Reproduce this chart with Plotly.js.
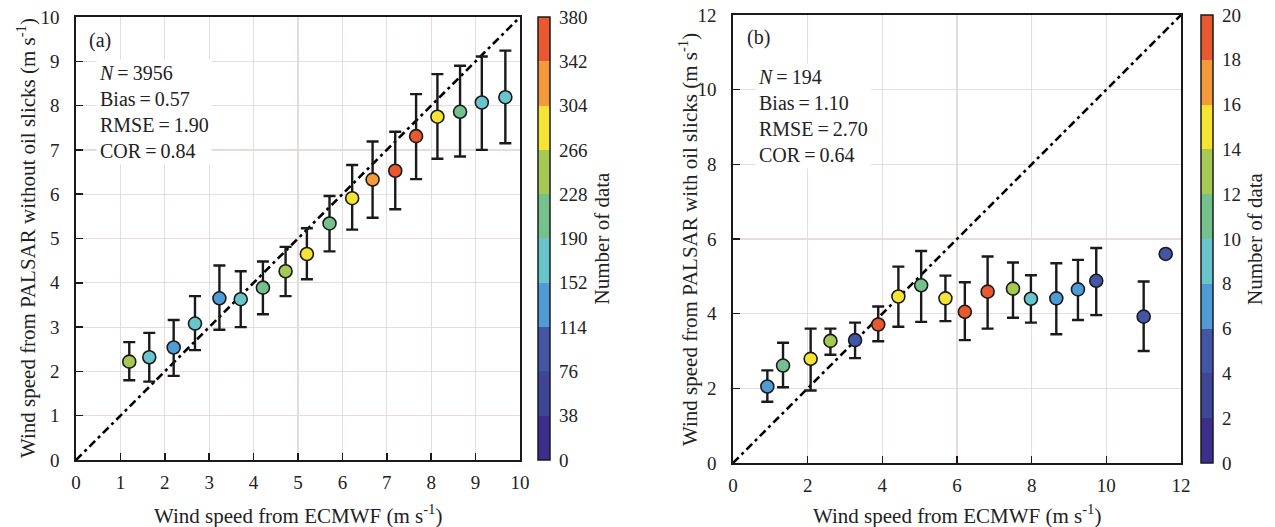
<!DOCTYPE html>
<html>
<head>
<meta charset="utf-8">
<script src="https://cdn.plot.ly/plotly-3.0.1.min.js"></script>
<style>html,body{margin:0;padding:0;background:#fff;}#chart{width:1275px;height:527px;}</style>
</head>
<body>
<div id="chart"></div>
<script>
// ---- Panel (a): without oil slicks ----
const ecmwfA = [1.2, 1.65, 2.2, 2.68, 3.23, 3.71, 4.21, 4.72, 5.2, 5.71, 6.22, 6.68, 7.19, 7.66, 8.14, 8.65, 9.14, 9.67];
const palsarA = [2.22, 2.32, 2.54, 3.08, 3.65, 3.63, 3.89, 4.26, 4.65, 5.34, 5.91, 6.33, 6.53, 7.31, 7.75, 7.86, 8.07, 8.19];
const upperA = [2.66, 2.87, 3.16, 3.70, 4.39, 4.26, 4.48, 4.81, 5.23, 5.96, 6.66, 7.19, 7.41, 8.26, 8.71, 8.90, 9.11, 9.24];
const lowerA = [1.80, 1.77, 1.90, 2.48, 2.94, 3.00, 3.29, 3.70, 4.08, 4.71, 5.20, 5.47, 5.66, 6.34, 6.80, 6.85, 7.00, 7.15];
const countA = [250, 170, 130, 175, 140, 180, 210, 245, 285, 215, 290, 320, 355, 350, 280, 205, 170, 165];

// ---- Panel (b): with oil slicks ----
const ecmwfB = [0.92, 1.34, 2.08, 2.61, 3.27, 3.89, 4.43, 5.04, 5.69, 6.21, 6.82, 7.5, 7.98, 8.66, 9.24, 9.73, 11.0, 11.59];
const palsarB = [2.05, 2.61, 2.79, 3.27, 3.29, 3.71, 4.46, 4.76, 4.41, 4.05, 4.59, 4.67, 4.40, 4.41, 4.65, 4.88, 3.92, 5.60];
const upperB = [2.48, 3.22, 3.60, 3.60, 3.76, 4.19, 5.26, 5.68, 5.02, 4.84, 5.53, 5.37, 5.03, 5.35, 5.44, 5.76, 4.86, 5.60];
const lowerB = [1.64, 2.03, 1.94, 2.90, 2.81, 3.26, 3.65, 3.78, 3.80, 3.29, 3.60, 3.89, 3.76, 3.45, 3.83, 3.96, 3.00, 5.60];
const countB = [7, 11, 15, 13, 5, 19, 15, 11, 15, 19, 19, 13, 9, 7, 7, 5, 5, 4];

// ---- 1:1 reference lines ----
const diagA = [0, 10];
const diagB = [0, 12];

// ---- Colour bins and tick labels ----
const binColors = ['#3b2e8c', '#3e4796', '#4356a6', '#4f9bd6', '#68c5cb', '#75c18d', '#a6c953', '#f5e532', '#f59a3b', '#e9582f'];
const cbTicksA = [0, 38, 76, 114, 152, 190, 228, 266, 304, 342, 380];
const cbTicksB = [0, 2, 4, 6, 8, 10, 12, 14, 16, 18, 20];

const EQ = '\u2009=\u2009';
const statsA = ['<i>N</i>' + EQ + '3956', 'Bias' + EQ + '0.57', 'RMSE' + EQ + '1.90', 'COR' + EQ + '0.84'];
const statsB = ['<i>N</i>' + EQ + '194', 'Bias' + EQ + '1.10', 'RMSE' + EQ + '2.70', 'COR' + EQ + '0.64'];

const FONT = 'Liberation Serif, Times New Roman, serif';

const scale = [];
binColors.forEach((c, i) => { scale.push([i / 10, c]); scale.push([(i + 1) / 10, c]); });

function diff(a, b) { return a.map((v, i) => v - b[i]); }

function pointTrace(x, y, up, lo, cnt, xa, ya, cax) {
  return {
    type: 'scatter', mode: 'markers', x: x, y: y, xaxis: xa, yaxis: ya,
    error_y: { type: 'data', symmetric: false, array: diff(up, y), arrayminus: diff(y, lo),
      color: '#1a1a1a', thickness: 2.4, width: 6 },
    marker: { size: 13, color: cnt, coloraxis: cax, line: { color: '#1a1a1a', width: 1.6 } },
    hoverinfo: 'x+y', showlegend: false
  };
}

function diagTrace(d, xa, ya) {
  return { type: 'scatter', mode: 'lines', x: d, y: d, xaxis: xa, yaxis: ya,
    line: { color: '#000', width: 2.6, dash: '8px,4px,3px,4px' }, hoverinfo: 'skip', showlegend: false };
}

const data = [
  diagTrace(diagA, 'x', 'y'),
  pointTrace(ecmwfA, palsarA, upperA, lowerA, countA, 'x', 'y', 'coloraxis'),
  diagTrace(diagB, 'x2', 'y2'),
  pointTrace(ecmwfB, palsarB, upperB, lowerB, countB, 'x2', 'y2', 'coloraxis2')
];

function axis(range, dtick, domain, anchor, standoff) {
  return {
    range: range, dtick: dtick, domain: domain, anchor: anchor,
    showline: true, linecolor: '#1a1a1a', linewidth: 1.6, mirror: true,
    ticks: 'inside', ticklen: 7, tickwidth: 1.5, tickcolor: '#1a1a1a',
    showgrid: true, gridcolor: '#e6dcdc', gridwidth: 1.2, zeroline: false,
    tickfont: { family: FONT, size: 19, color: '#222' }, ticklabelstandoff: standoff, fixedrange: true
  };
}

function cbar(x, y, len, ticks) {
  return {
    cmin: ticks[0], cmax: ticks[ticks.length - 1], colorscale: scale,
    colorbar: {
      x: x, xanchor: 'left', xpad: 0, y: y, yanchor: 'middle', ypad: 0,
      len: len, lenmode: 'fraction', thickness: 12,
      outlinewidth: 1.5, outlinecolor: '#1a1a1a',
      tickvals: ticks, ticktext: ticks.map(String), ticks: 'outside', ticklen: 5, tickcolor: 'rgba(0,0,0,0)',
      tickfont: { family: FONT, size: 19, color: '#222' },
      title: { text: 'Number of data', side: 'right', font: { family: FONT, size: 21, color: '#222' } }
    }
  };
}

const ann = [];
function txt(text, x, y, xref, yref, opts) {
  ann.push(Object.assign({ text: text, x: x, y: y, xref: xref, yref: yref, showarrow: false,
    font: { family: FONT, size: 20, color: '#222' } }, opts || {}));
}
// panel labels and stats
txt('(a)', 0.025, 0.948, 'x domain', 'y domain', { xanchor: 'left', yanchor: 'middle' });
txt(statsA.join('<br>'), 0.044, 0.905, 'x domain', 'y domain',
  { xanchor: 'left', yanchor: 'top', align: 'left', bgcolor: '#fff', borderpad: 2 });
txt('(b)', 0.027, 0.949, 'x2 domain', 'y2 domain', { xanchor: 'left', yanchor: 'middle' });
txt(statsB.join('<br>'), 0.05, 0.892, 'x2 domain', 'y2 domain',
  { xanchor: 'left', yanchor: 'top', align: 'left', bgcolor: '#fff', borderpad: 2 });
// axis titles
const tf = { family: FONT, size: 21, color: '#222' };
const c = { xanchor: 'center', yanchor: 'middle', font: tf };
txt('Wind speed from ECMWF (m s<sup>-1</sup>)', 298 / 1275, 1 - 514 / 527, 'paper', 'paper', c);
txt('Wind speed from ECMWF (m s<sup>-1</sup>)', 957 / 1275, 1 - 514 / 527, 'paper', 'paper', c);
txt('Wind speed from PALSAR without oil slicks (m s<sup>-1</sup>)', 26 / 1275, 1 - 238 / 527, 'paper', 'paper', Object.assign({ textangle: -90 }, c));
txt('Wind speed from PALSAR with oil slicks (m s<sup>-1</sup>)', 689 / 1275, 1 - 240 / 527, 'paper', 'paper', Object.assign({ textangle: -90 }, c));

const layout = {
  width: 1275, height: 527,
  margin: { l: 0, r: 0, t: 0, b: 0 },
  paper_bgcolor: '#fff', plot_bgcolor: '#fff',
  font: { family: FONT, color: '#222' },
  xaxis: axis([0, 10], 1, [76 / 1275, 520 / 1275], 'y', 5),
  yaxis: axis([0, 10], 1, [(527 - 460) / 527, (527 - 17) / 527], 'x', 11),
  xaxis2: axis([0, 12], 2, [733 / 1275, 1181 / 1275], 'y2', 5),
  yaxis2: axis([0, 12], 2, [(527 - 463) / 527, (527 - 15) / 527], 'x2', 11),
  coloraxis: cbar(538 / 1275, 1 - 238.5 / 527, 443 / 527, cbTicksA),
  coloraxis2: cbar(1201 / 1275, 1 - 239 / 527, 448 / 527, cbTicksB),
  annotations: ann,
  showlegend: false
};

Plotly.newPlot('chart', data, layout, { displayModeBar: false, staticPlot: true });
</script>
</body>
</html>
